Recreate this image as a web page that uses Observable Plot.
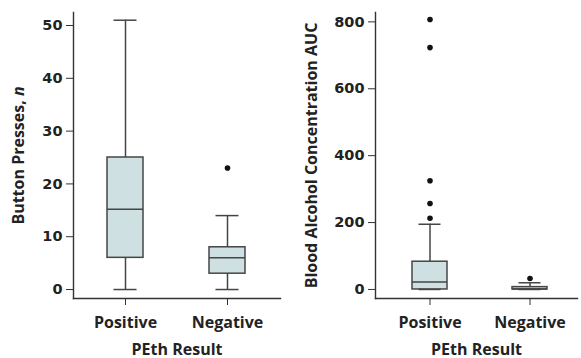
<!DOCTYPE html>
<html>
<head>
<meta charset="utf-8">
<script src="https://cdn.jsdelivr.net/npm/d3@7"></script>
<script src="https://cdn.jsdelivr.net/npm/@observablehq/plot@0.6"></script>
<style>
  html, body { margin: 0; padding: 0; background: #fff; }
  #wrap { display: flex; width: 581px; height: 358px; }
</style>
</head>
<body>
<div id="wrap"></div>
<script>
// ---- data ----
const categories = ["Positive", "Negative"];

// Button presses (left panel)
const pressLow = [0, 0];
const pressQ1 = [6, 3];
const pressMedian = [15.2, 6];
const pressQ3 = [25, 8];
const pressHigh = [51, 14];
const pressOutlierGroups = ["Negative"];
const pressOutlierValues = [23];
const pressTicks = [0, 10, 20, 30, 40, 50];

// Blood alcohol concentration AUC (right panel)
const aucLow = [0, 0];
const aucQ1 = [0, 0];
const aucMedian = [22, 1.5];
const aucQ3 = [83, 7];
const aucHigh = [195, 20];
const aucOutlierGroups = ["Positive", "Positive", "Positive", "Positive", "Positive", "Negative"];
const aucOutlierValues = [213, 257, 325, 723, 807, 33];
const aucTicks = [0, 200, 400, 600, 800];

const xTitle = "PEth Result";
const leftTitle = "Button Presses, n";
const rightTitle = "Blood Alcohol Concentration AUC";

// ---- build ----
function rows(low, q1, med, q3, high) {
  return categories.map((g, i) => ({group: g, low: low[i], q1: q1[i], median: med[i], q3: q3[i], high: high[i]}));
}
function outs(groups, values) {
  return groups.map((g, i) => ({group: g, value: values[i]}));
}

const ink = "#222";
const line = "#454545";
const fill = "#cfe0e2";

function panel({data, outliers, ticks, domain, title, width, marginLeft, marginRight, align, labelOffset}) {
  const svg = Plot.plot({
    width,
    height: 358,
    marginTop: 12,
    marginBottom: 60,
    marginLeft,
    marginRight,
    style: {fontFamily: "'Open Sans', sans-serif", fontWeight: 700, fontSize: "15px", color: ink, background: "#fff", overflow: "visible"},
    x: {type: "band", domain: categories, paddingInner: 0.647, paddingOuter: 0.33, align},
    y: {domain},
    marks: [
      Plot.frame({anchor: "left", stroke: "#333", strokeWidth: 1.4}),
      Plot.frame({anchor: "bottom", stroke: "#333", strokeWidth: 1.4}),
      Plot.axisY({ticks, tickSize: 7, tickPadding: 4, stroke: "#333", label: title, labelAnchor: "center", labelArrow: "none", labelOffset}),
      Plot.axisX({tickSize: 7, tickPadding: 11, stroke: "#333", label: xTitle, labelAnchor: "center", labelArrow: "none", labelOffset: 56}),
      Plot.ruleX(data, {x: "group", y1: "low", y2: "q1", stroke: line, strokeWidth: 1.5}),
      Plot.ruleX(data, {x: "group", y1: "q3", y2: "high", stroke: line, strokeWidth: 1.5}),
      Plot.barY(data, {x: "group", y1: "q1", y2: "q3", fill, stroke: line, strokeWidth: 1.5}),
      Plot.tickY(data, {x: "group", y: "median", stroke: line, strokeWidth: 1.5}),
      Plot.tickY(data, {x: "group", y: "low", stroke: line, strokeWidth: 1.5, insetLeft: 6.5, insetRight: 6.5}),
      Plot.tickY(data, {x: "group", y: "high", stroke: line, strokeWidth: 1.5, insetLeft: 6.5, insetRight: 6.5}),
      Plot.dot(outliers, {x: "group", y: "value", r: 2.8, fill: "#111", stroke: "none"})
    ]
  });
  return svg;
}

const left = panel({
  data: rows(pressLow, pressQ1, pressMedian, pressQ3, pressHigh),
  outliers: outs(pressOutlierGroups, pressOutlierValues),
  ticks: pressTicks,
  domain: [-1.7, 52.46],
  title: leftTitle,
  width: 290, marginLeft: 73, marginRight: 10, align: 0.5, labelOffset: 61
});
const right = panel({
  data: rows(aucLow, aucQ1, aucMedian, aucQ3, aucHigh),
  outliers: outs(aucOutlierGroups, aucOutlierValues),
  ticks: aucTicks,
  domain: [-27, 828],
  title: rightTitle,
  width: 291, marginLeft: 85, marginRight: 4, align: 0.555, labelOffset: 70
});

const wrap = document.getElementById("wrap");
wrap.appendChild(left);
wrap.appendChild(right);

// text sizes: numeric tick labels in a wider face, category labels 16px, titles 16px
for (const svg of [left, right]) {
  svg.querySelectorAll("text").forEach(t => {
    const s = t.textContent;
    if (categories.includes(s) || s === xTitle) t.style.fontSize = "16px";
    else if (s === leftTitle || s === rightTitle) t.style.fontSize = "16px";
    else { t.style.fontSize = "14.5px"; t.style.fontFamily = "'DejaVu Sans', sans-serif"; }
  });
}

// italicize the "n" in the left axis title
left.querySelectorAll("text").forEach(t => {
  if (t.textContent === leftTitle) {
    const ns = "http://www.w3.org/2000/svg";
    t.textContent = "";
    const a = document.createElementNS(ns, "tspan");
    a.textContent = "Button Presses, ";
    const b = document.createElementNS(ns, "tspan");
    b.textContent = "n";
    b.setAttribute("font-style", "italic");
    t.appendChild(a); t.appendChild(b);
  }
});
</script>
</body>
</html>
